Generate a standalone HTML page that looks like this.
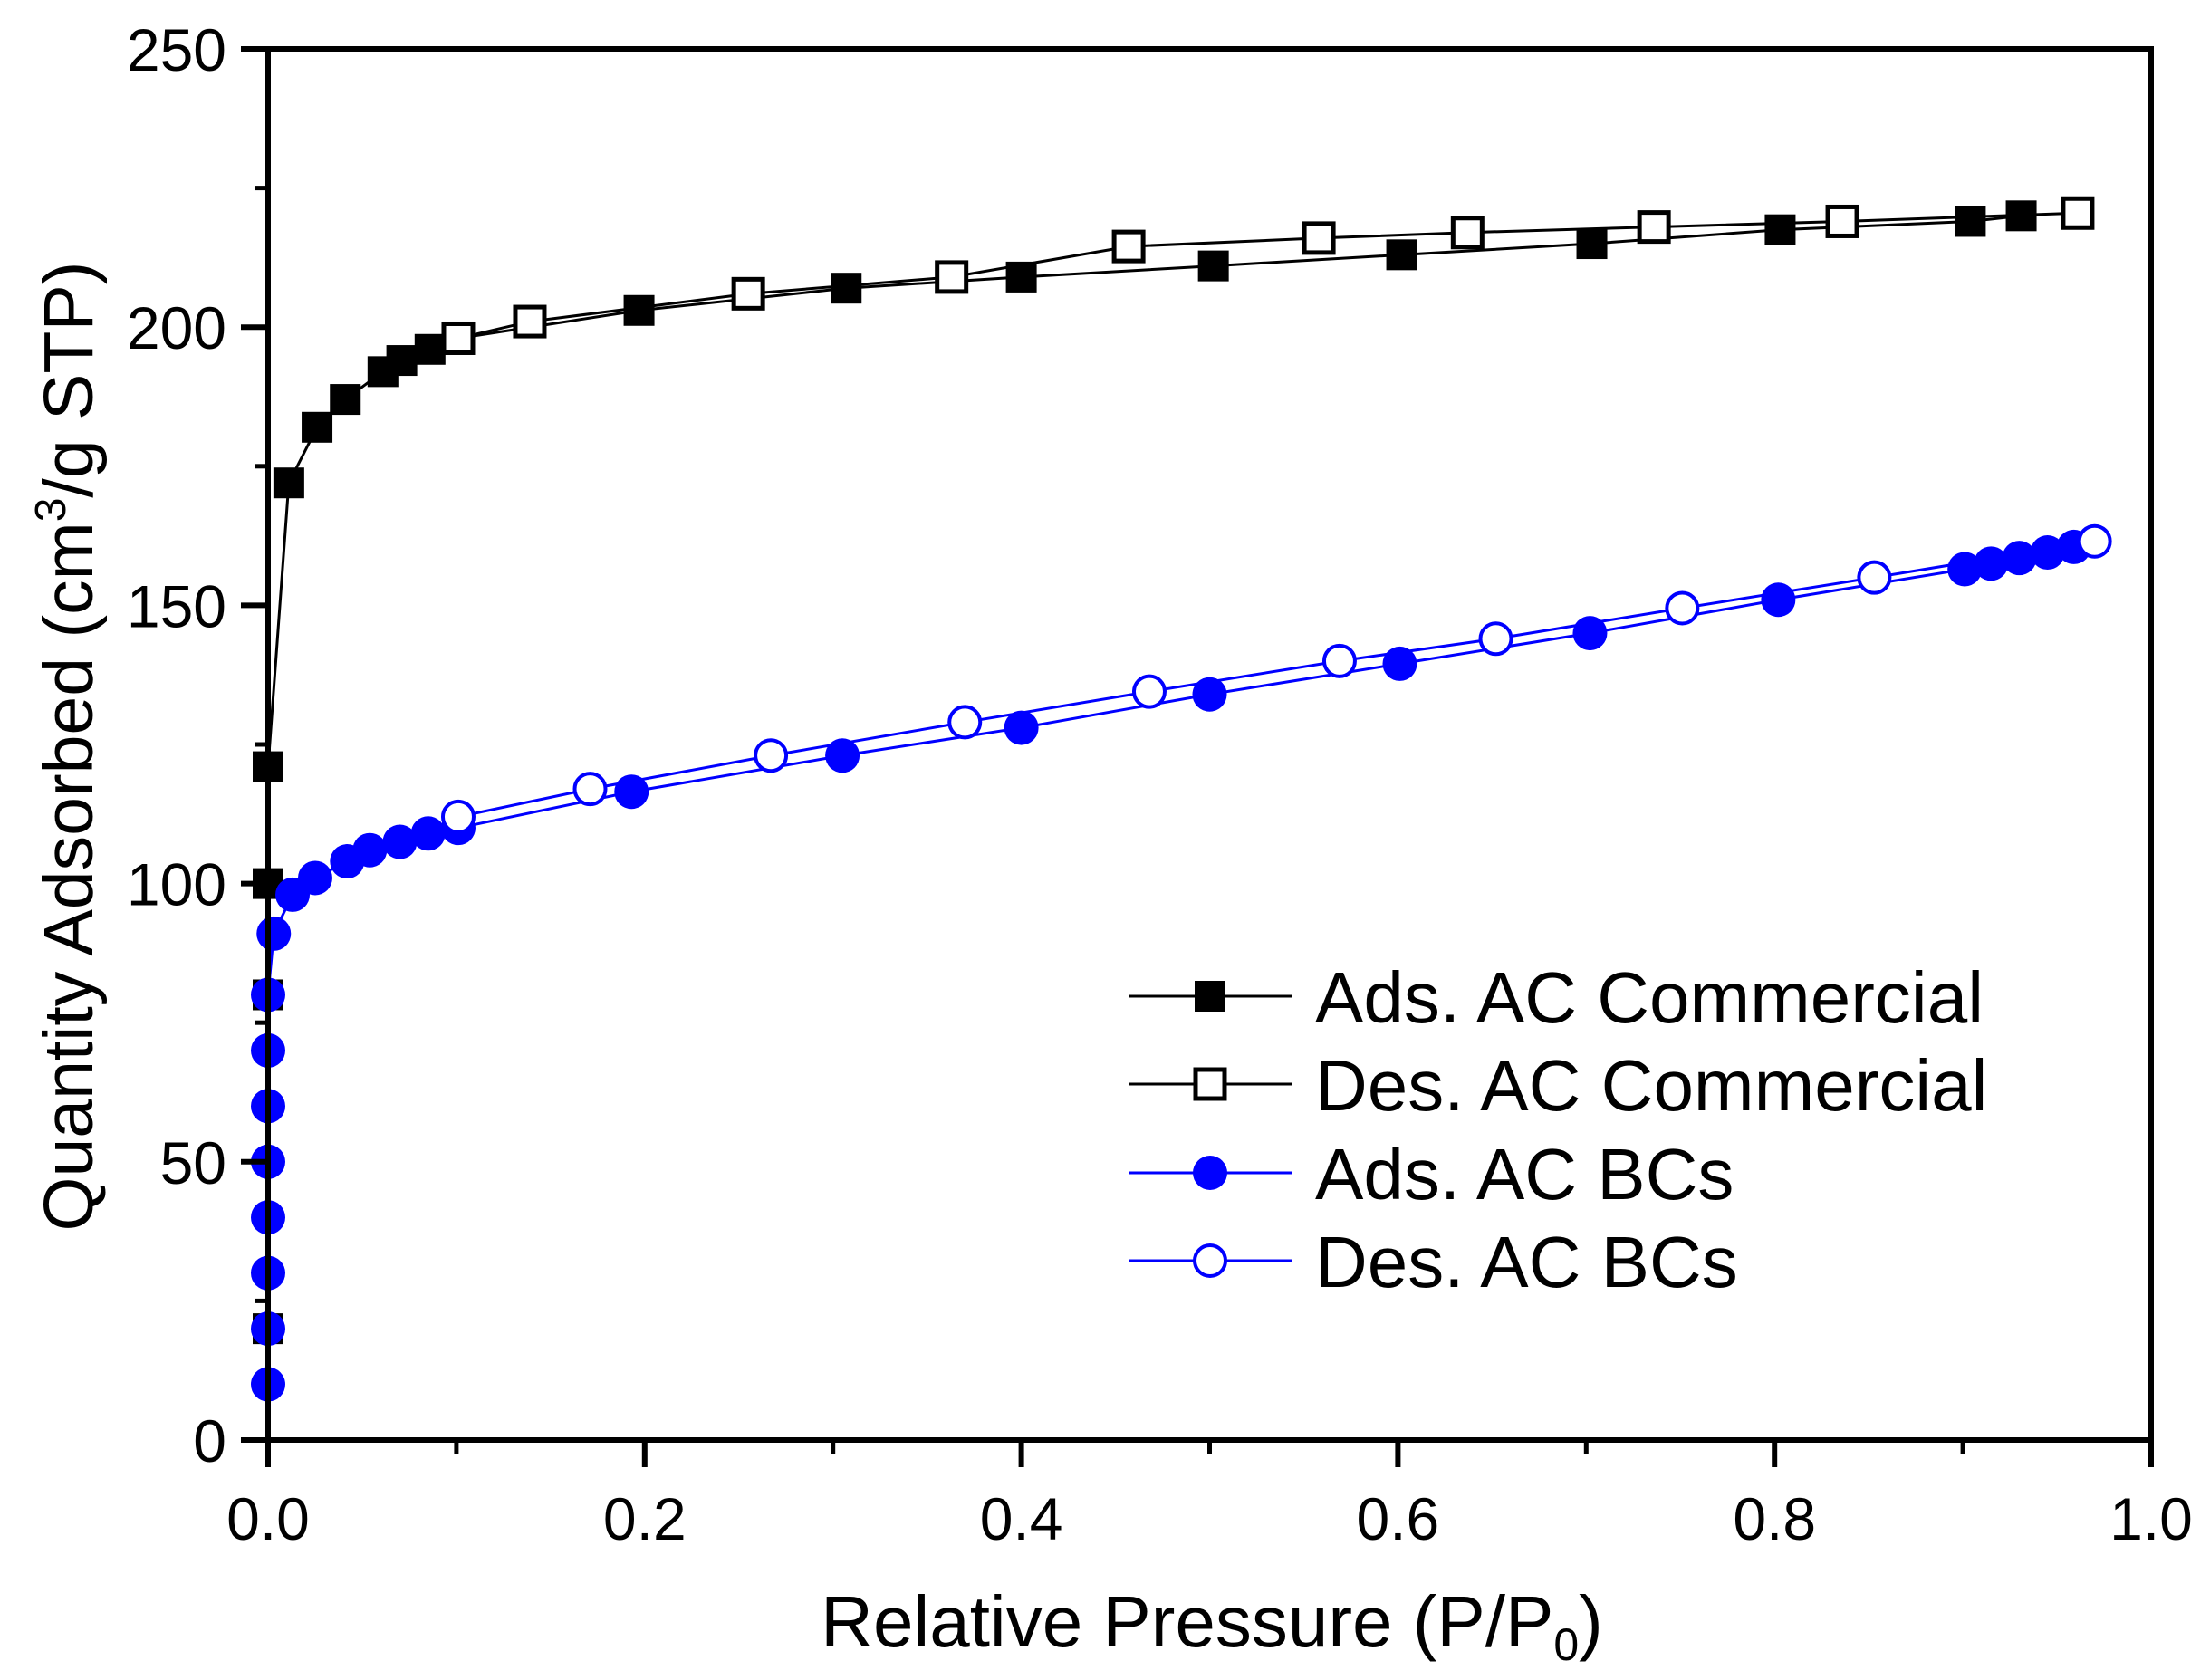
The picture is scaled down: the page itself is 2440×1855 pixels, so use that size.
<!DOCTYPE html>
<html><head><meta charset="utf-8"><style>
html,body{margin:0;padding:0;background:#fff;}
svg{display:block;font-family:"Liberation Sans",Arial,sans-serif;}
</style></head><body>
<svg id="chart" width="2440" height="1855" viewBox="0 0 2440 1855">
<g id="marks"></g>
<g id="axes"></g>
<g id="legend"></g>
</svg>
<script>
const adsComX=[0,0,0,0,0.011,0.026,0.041,0.061,0.071,0.086,0.101,0.197,0.307,0.400,0.502,0.602,0.703,0.803,0.904,0.931];
const adsComY=[20,80,100,121,172,182,187,192,194,196,198,203,207,209,211,213,215,217.5,219,220];
const desComX=[0.961,0.836,0.736,0.637,0.558,0.457,0.363,0.255,0.139,0.101];
const desComY=[220.5,219,218,217,216,214.5,209,206,201,198];
const adsBCX=[0,0,0,0,0,0,0,0,0.003,0.013,0.025,0.042,0.054,0.070,0.085,0.101,0.193,0.305,0.400,0.500,0.601,0.702,0.802,0.901,0.915,0.930,0.945,0.959];
const adsBCY=[10,20,30,40,50,60,70,80,91,98,101,104,106,107.5,109,110,116.5,123,128,134,139.5,145,151,156.5,157.5,158.5,159.5,160.5];
const desBCX=[0.970,0.853,0.751,0.652,0.569,0.468,0.370,0.267,0.171,0.101];
const desBCY=[161.5,155,149.5,144,140,134.5,129,123,117,112];
const xTicks=[0,0.2,0.4,0.6,0.8,1.0];
const xTickLabels=["0.0","0.2","0.4","0.6","0.8","1.0"];
const yTicks=[0,50,100,150,200,250];
const yTickLabels=["0","50","100","150","200","250"];
const legendLabels=["Ads. AC Commercial","Des. AC Commercial","Ads. AC BCs","Des. AC BCs"];

const L=296,R=2375,T=54,B=1590;
const sx=v=>L+v*(R-L);
const sy=v=>B-v/250*(B-T);
const NS="http://www.w3.org/2000/svg";
function mk(tag,attrs,parent){const e=document.createElementNS(NS,tag);for(const k in attrs)e.setAttribute(k,attrs[k]);parent.appendChild(e);return e;}
const marks=document.getElementById('marks'),axes=document.getElementById('axes'),legend=document.getElementById('legend');

function series(xs,ys,color,shape,filled,name){
  const g=mk('g',{},marks);
  
  
  let pts=xs.map((x,i)=>sx(x)+','+sy(ys[i]));
  const pl=mk('polyline',{points:pts.join(' '),fill:'none',stroke:color,'stroke-width':3},g);
  
  
  xs.forEach((x,i)=>marker(g,sx(x),sy(ys[i]),color,shape,filled,name+'-point'));
  return g;
}
function marker(g,cx,cy,color,shape,filled,name){
  let m;
  if(shape==='sq'){m=mk('rect',{x:cx-16,y:cy-16,width:32,height:32,fill:filled?color:'#fff',stroke:color,'stroke-width':filled?2:5},g);}
  else{m=mk('circle',{cx:cx,cy:cy,r:filled?19:17,fill:filled?color:'#fff',stroke:color,'stroke-width':filled?0:4},g);}
  
  
}
series(adsComX,adsComY,'#000','sq',true,'ads-ac-commercial');
series(desComX,desComY,'#000','sq',false,'des-ac-commercial');
series(adsBCX,adsBCY,'#0000ff','c',true,'ads-ac-bcs');
series(desBCX,desBCY,'#0000ff','c',false,'des-ac-bcs');

const fr=mk('rect',{x:L,y:T,width:R-L,height:B-T,fill:'none',stroke:'#000','stroke-width':6},axes);


xTicks.forEach((v,i)=>{
  const t=mk('line',{x1:sx(v),x2:sx(v),y1:B,y2:B+30,stroke:'#000','stroke-width':6},axes);
  
  
  if(i<xTicks.length-1){const m=mk('line',{x1:sx(v+0.1),x2:sx(v+0.1),y1:B,y2:B+15,stroke:'#000','stroke-width':5},axes);
  
  }
  const tx=mk('text',{x:sx(v),y:1700,'font-size':66,'text-anchor':'middle'},axes);
  tx.textContent=xTickLabels[i];
  
  
});
yTicks.forEach((v,i)=>{
  const t=mk('line',{x1:L-30,x2:L,y1:sy(v),y2:sy(v),stroke:'#000','stroke-width':6},axes);
  
  
  if(i<yTicks.length-1){const m=mk('line',{x1:L-15,x2:L,y1:sy(v+25),y2:sy(v+25),stroke:'#000','stroke-width':5},axes);
  
  }
  const tx=mk('text',{x:250,y:sy(v)+24,'font-size':66,'text-anchor':'end'},axes);
  tx.textContent=yTickLabels[i];
  
  
});
const colors=['#000','#000','#0000ff','#0000ff'],shapes=['sq','sq','c','c'],fills=[true,false,true,false];
const rowsY=[1100,1197,1295,1392];
legendLabels.forEach((lab,i)=>{
  const g=mk('g',{},legend);
  
  
  mk('line',{x1:1247,x2:1426,y1:rowsY[i],y2:rowsY[i],stroke:colors[i],'stroke-width':3},g);
  marker(g,1336,rowsY[i],colors[i],shapes[i],fills[i],'legend-marker');
  const t=mk('text',{x:1452,y:rowsY[i]+29,'font-size':80},g);
  t.textContent=lab;
});
</script>
<script>
(function(){
const s=document.getElementById('chart');const NS="http://www.w3.org/2000/svg";
const xt=document.createElementNS(NS,'text');
xt.setAttribute('x','1338');xt.setAttribute('y','1818');xt.setAttribute('font-size','80');xt.setAttribute('text-anchor','middle');


xt.innerHTML='Relative Pressure (P/P<tspan font-size="50" dy="15">0</tspan><tspan dy="-15">)</tspan>';
s.appendChild(xt);
const yt=document.createElementNS(NS,'text');
yt.setAttribute('transform','translate(102,824) rotate(-90)');yt.setAttribute('font-size','77');yt.setAttribute('text-anchor','middle');


yt.innerHTML='Quantity Adsorbed (cm<tspan font-size="48" dy="-30">3</tspan><tspan dy="30">/g STP)</tspan>';
s.appendChild(yt);
})();
</script>
</body></html>
